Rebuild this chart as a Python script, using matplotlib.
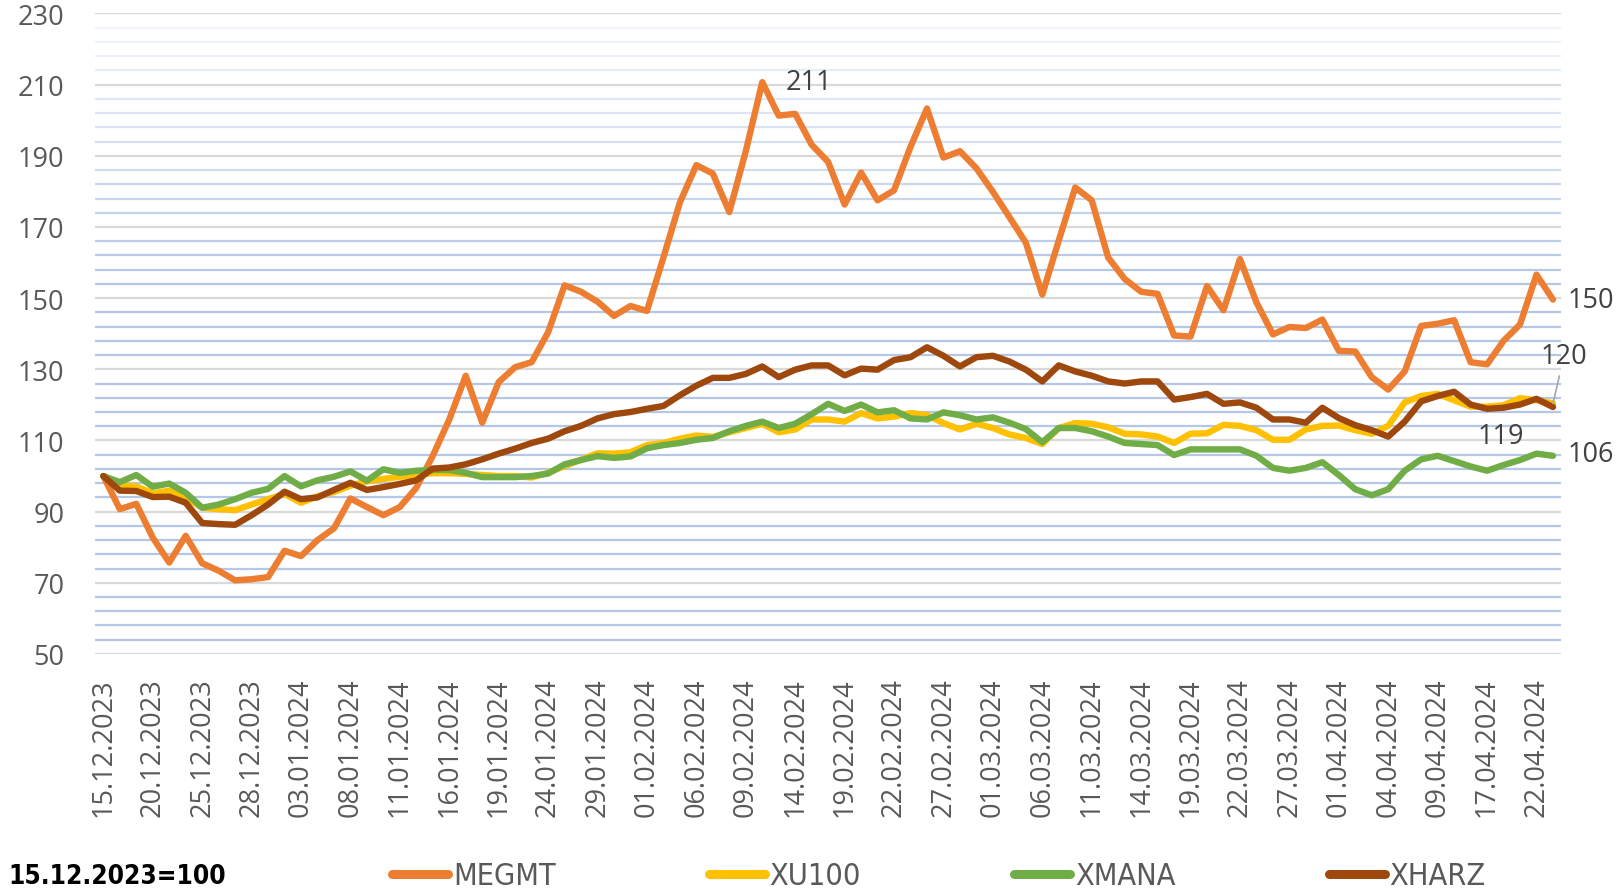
import numpy as np
import pandas as pd
import matplotlib
matplotlib.use('Agg')
import matplotlib.pyplot as plt
from matplotlib import font_manager as fm
from matplotlib.lines import Line2D
from matplotlib.colors import to_rgba

# trading days, Borsa Istanbul holidays left out
holidays = ['2024-01-01', '2024-04-10', '2024-04-11', '2024-04-12', '2024-04-23']
dates = [d.strftime('%d.%m.%Y') for d in pd.bdate_range('2023-12-15', '2024-04-24')
         if d.strftime('%Y-%m-%d') not in holidays]

megmt = [100, 90.7, 92.2, 82.7, 75.7, 83.2, 75.5, 73.4, 70.7, 71.0,
         71.6, 79.0, 77.5, 82.0, 85.3, 93.7, 91.3, 89.0, 91.3, 96.7,
         105.7, 115.9, 128.2, 115.0, 126.4, 130.6, 132.0, 140.4, 153.6, 151.8,
         149.0, 145.0, 147.8, 146.4, 161.4, 176.9, 187.4, 185.0, 174.2, 191.3,
         210.7, 201.3, 201.8, 193.1, 188.3, 176.3, 185.3, 177.5, 180.3, 192.5,
         203.3, 189.5, 191.3, 186.5, 179.9, 172.8, 165.6, 151.0, 166.2, 181.1,
         177.5, 161.4, 155.4, 151.8, 151.2, 139.5, 139.2, 153.4, 146.6, 161.0,
         148.8, 139.8, 141.9, 141.6, 144.0, 135.2, 135.0, 127.8, 124.3, 129.4,
         142.2, 142.8, 143.8, 132.0, 131.4, 138.0, 142.6, 156.6, 149.6]

xu100 = [100, 97.4, 97.1, 95.1, 95.9, 94.0, 91.1, 90.7, 90.4, 92.0,
         93.5, 95.0, 92.5, 94.3, 95.5, 97.3, 98.5, 99.2, 99.8, 100.3,
         100.8, 100.8, 100.6, 100.3, 100.0, 100.0, 99.6, 100.9, 102.8, 104.6,
         106.4, 106.3, 106.7, 108.7, 109.3, 110.5, 111.4, 111.0, 112.3, 113.5,
         114.7, 112.3, 113.1, 115.9, 115.9, 115.3, 117.7, 116.2, 116.7, 117.7,
         117.1, 114.9, 113.1, 114.7, 113.5, 111.7, 110.7, 109.0, 113.5, 114.9,
         114.7, 113.7, 111.9, 111.7, 111.1, 109.3, 111.9, 112.0, 114.4, 114.1,
         112.9, 110.2, 110.2, 113.1, 114.1, 114.2, 112.9, 111.9, 114.1, 120.7,
         122.5, 123.1, 121.3, 119.5, 119.5, 119.9, 121.9, 121.3, 120.4]

xmana = [100, 98.3, 100.3, 97.0, 97.9, 95.3, 91.1, 92.0, 93.5, 95.3,
         96.4, 100.0, 97.1, 98.8, 99.8, 101.3, 98.7, 101.9, 100.9, 101.5,
         101.7, 101.7, 100.9, 99.7, 99.7, 99.7, 100.0, 100.7, 103.3, 104.5,
         105.6, 105.1, 105.5, 107.8, 108.7, 109.3, 110.2, 110.7, 112.6, 114.1,
         115.3, 113.5, 114.7, 117.4, 120.3, 118.3, 120.1, 117.9, 118.5, 116.2,
         115.9, 117.9, 117.1, 115.9, 116.5, 115.0, 113.2, 109.5, 113.5, 113.5,
         112.6, 111.1, 109.3, 109.0, 108.7, 105.9, 107.5, 107.5, 107.5, 107.5,
         105.7, 102.3, 101.5, 102.3, 103.9, 100.3, 96.3, 94.6, 96.3, 101.5,
         104.7, 105.7, 104.2, 102.7, 101.5, 103.1, 104.5, 106.3, 105.7]

xharz = [100, 95.9, 95.8, 94.1, 94.2, 92.5, 86.8, 86.5, 86.3, 89.0,
         92.0, 95.6, 93.5, 94.0, 96.1, 98.1, 96.1, 96.9, 97.8, 98.8,
         102.1, 102.4, 103.3, 104.7, 106.3, 107.7, 109.3, 110.5, 112.6, 114.1,
         116.2, 117.4, 118.0, 118.9, 119.7, 122.7, 125.4, 127.6, 127.6, 128.7,
         130.8, 127.8, 129.9, 131.1, 131.1, 128.3, 130.2, 129.9, 132.6, 133.4,
         136.2, 133.8, 130.8, 133.4, 133.8, 132.2, 129.9, 126.6, 131.1, 129.4,
         128.2, 126.6, 126.0, 126.6, 126.6, 121.5, 122.2, 123.1, 120.3, 120.7,
         119.2, 115.9, 115.9, 115.0, 119.2, 116.3, 114.3, 112.9, 111.1, 115.3,
         121.0, 122.5, 123.7, 120.1, 118.9, 119.2, 120.1, 121.7, 119.4]

names = ['MEGMT', 'XU100', 'XMANA', 'XHARZ']
colors = ['#ED7D31', '#FFC000', '#70AD47', '#9E480E']
series = [megmt, xu100, xmana, xharz]

# legend font: a narrow face if there is one, else plain Liberation Sans
fonts = fm.fontManager.ttflist
if any(f.name == 'Liberation Sans Narrow' for f in fonts):
    leg_font = dict(family='Liberation Sans Narrow', stretch='normal', size=24.5, bsize=25)
elif any(f.name == 'DejaVu Sans' and f.stretch == 'condensed' for f in fonts):
    leg_font = dict(family='DejaVu Sans', stretch='condensed', size=22, bsize=18.8)
else:
    leg_font = dict(family='Liberation Sans', stretch='normal', size=20, bsize=21)
em = leg_font['size'] / 72 * 100

fig = plt.figure(figsize=(16.2, 8.95), dpi=100)
ax = fig.add_axes([0.0587, 0.2682, 0.9050, 0.7156])

x = np.arange(len(dates))

# gridlines: grey every 20, light blue every 4 (fainter towards the top)
for v in range(50, 231, 4):
    if (v - 50) % 20 == 0:
        ax.axhline(v, color='#D9D9D9', lw=1.6, zorder=0)
    else:
        a = np.clip(0.12 + (230 - v) / 85.0, 0.12, 1.0)
        ax.axhline(v, color=to_rgba('#B4C7E7', a), lw=1.6, zorder=0)

for name, col, y in zip(names, colors, series):
    ax.plot(x, y, color=col, lw=4.6, solid_joinstyle='round',
            solid_capstyle='round', label=name, zorder=3)

ax.set_xlim(-0.5, len(dates) - 0.5)
ax.set_ylim(50, 230)
ax.set_yticks(range(50, 231, 20))
ax.set_xticks(x[::3])
ax.set_xticklabels(dates[::3], rotation=90)
for s in ax.spines.values():
    s.set_visible(False)
ax.tick_params(axis='both', length=0, labelsize=19.5, labelcolor='#595959')
ax.tick_params(axis='y', pad=22)
ax.tick_params(axis='x', pad=17)
for lab in ax.get_xticklabels() + ax.get_yticklabels():
    lab.set_family('Open Sans')

# data labels
lbl = dict(fontsize=19.5, color='#404040', family='Open Sans',
           textcoords='offset pixels', ha='center', va='center', zorder=5)
peak = int(np.argmax(megmt))
ax.annotate(f'{megmt[peak]:.0f}', (peak, megmt[peak]), xytext=(47, 0), **lbl)
last = len(dates) - 1
ax.annotate(f'{megmt[last]:.0f}', (last, megmt[last]), xytext=(38, 0), **lbl)
ax.annotate(f'{xmana[last]:.0f}', (last, xmana[last]), xytext=(38, 2), **lbl)
ax.annotate(f'{xu100[last]:.0f}', (last, xu100[last]), xytext=(11, 47),
            arrowprops=dict(arrowstyle='-', color='#A6A6A6', lw=1.2,
                            shrinkA=2, shrinkB=0), **lbl)
ax.annotate(f'{xharz[last]:.0f}', (last, xharz[last]), xytext=(-52, -29), **lbl)

# bottom legend
fig.text(8 / 1620, 1 - 877 / 895, '15.12.2023=100', fontsize=leg_font['bsize'],
         weight='bold', family=leg_font['family'], stretch=leg_font['stretch'],
         color='black', ha='left', va='center')
handles = [Line2D([], [], color=c, lw=6.5, solid_capstyle='round') for c in colors]
leg = fig.legend(handles, names, loc='center left', ncol=4,
                 bbox_to_anchor=(392 / 1620, 1 - 877 / 895), frameon=False,
                 borderpad=0, borderaxespad=0, handlelength=56 / em,
                 handletextpad=5 / em, columnspacing=153 / em,
                 prop={'family': leg_font['family'], 'stretch': leg_font['stretch'],
                       'size': leg_font['size']})
for t in leg.get_texts():
    t.set_color('#595959')

fig.savefig('out.png', dpi=100)
